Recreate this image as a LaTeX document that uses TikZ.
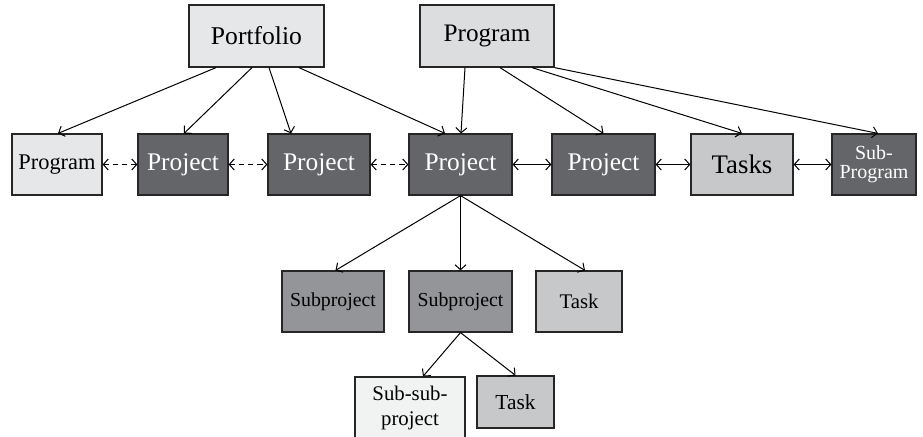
\documentclass[tikz,border=0pt]{standalone}
\usepackage{fontspec}
\setmainfont{Liberation Serif}
\usetikzlibrary{arrows.meta}

\definecolor{palegray}{HTML}{E6E7E8}
\definecolor{paletop}{HTML}{DCDDDF}
\definecolor{darkbox}{HTML}{646568}
\definecolor{midbox}{HTML}{939598}
\definecolor{lightbox}{HTML}{C7C8CA}
\definecolor{whitebox}{HTML}{F1F2F2}

\begin{document}
\begin{tikzpicture}[
		x=0.5pt,y=-0.5pt,
		>={Straight Barb[length=2.5pt,width=5.5pt]},
		box/.style={draw=black!85,line width=0.6pt,inner sep=1pt,align=center,minimum height=30.5pt},
		pale/.style={box,fill=palegray},
		dark/.style={box,fill=darkbox,text=white},
		sub/.style={box,fill=midbox,font=\fontsize{9.9}{11}\selectfont},
		light/.style={box,fill=lightbox},
		link/.style={->,line width=0.5pt},
		peer/.style={<->,line width=0.5pt},
		loose/.style={peer,dash pattern=on 2.6pt off 2pt}
	]
	\useasboundingbox (0,0) rectangle (923,436);

	% top row
	\node[pale,minimum width=67.5pt,minimum height=31pt,font=\fontsize{12.8}{14}\selectfont] (portfolio) at (256.5,36) {Portfolio};
	\node[box,fill=paletop,minimum width=67pt,minimum height=31pt,font=\fontsize{12.6}{14}\selectfont] (program) at (487,36) {Program};

	% middle row
	\node[pale,minimum width=45pt,font=\fontsize{11.2}{13}\selectfont] (progleft) at (57,164.5) {Program};
	\node[dark,minimum width=45pt,font=\fontsize{12.7}{14}\selectfont] (proja) at (183,164.5) {Project};
	\node[dark,minimum width=51pt,font=\fontsize{12.7}{14}\selectfont] (projb) at (319,164.5) {Project};
	\node[dark,minimum width=51.5pt,font=\fontsize{12.7}{14}\selectfont] (projc) at (460.5,164.5) {Project};
	\node[dark,minimum width=51.5pt,font=\fontsize{12.7}{14}\selectfont] (projd) at (603.5,164.5) {Project};
	\node[light,minimum width=51pt,font=\fontsize{13.4}{15}\selectfont] (tasks) at (742,164.5) {Tasks};
	\node[dark,minimum width=42pt,font=\fontsize{10}{9.5}\selectfont] (subprog) at (874,164.5) {Sub-\\Program};

	% lower rows
	\node[sub,minimum width=51pt] (subproja) at (333,301.5) {Subproject};
	\node[sub,minimum width=51.5pt] (subprojb) at (460.5,301.5) {Subproject};
	\node[light,minimum width=43pt,font=\fontsize{10.4}{12}\selectfont] (taska) at (579,301.5) {Task};
	\node[box,fill=whitebox,minimum width=55pt,font=\fontsize{10.4}{12.5}\selectfont] (subsub) at (410,407.5) {Sub-sub-\\project};
	\node[light,minimum width=38.5pt,minimum height=26pt,font=\fontsize{10.7}{12}\selectfont] (taskb) at (515.5,402) {Task};

	% portfolio links
	\draw[link] ([xshift=-20.25pt]portfolio.south) -- ([xshift=0.5pt]progleft.north);
	\draw[link] ([xshift=-2.25pt]portfolio.south) -- ([xshift=0.5pt]proja.north);
	\draw[link] ([xshift=6.25pt]portfolio.south) -- ([xshift=-14pt]projb.north);
	\draw[link] ([xshift=21.25pt]portfolio.south) -- ([xshift=-7.75pt]projc.north);

	% program links
	\draw[link] ([xshift=-11pt]program.south) -- ([xshift=0.25pt]projc.north);
	\draw[link] ([xshift=6.5pt]program.south) -- (projd.north);
	\draw[link] ([xshift=22.5pt]program.south) -- (tasks.north);
	\draw[link] (program.south east) -- ([xshift=2pt]subprog.north);

	% peers
	\draw[loose] (progleft) -- (proja);
	\draw[loose] (proja) -- (projb);
	\draw[loose] (projb) -- (projc);
	\draw[peer] (projc) -- (projd);
	\draw[peer] (projd) -- (tasks);
	\draw[peer] (tasks) -- (subprog);

	% breakdown
	\draw[link] (projc.south) -- ([xshift=1.25pt]subproja.north);
	\draw[link] (projc.south) -- (subprojb.north);
	\draw[link] (projc.south) -- ([xshift=3pt]taska.north);
	\draw[link] (subprojb.south) -- ([xshift=6.5pt]subsub.north);
	\draw[link] (subprojb.south) -- (taskb.north);
\end{tikzpicture}
\end{document}
